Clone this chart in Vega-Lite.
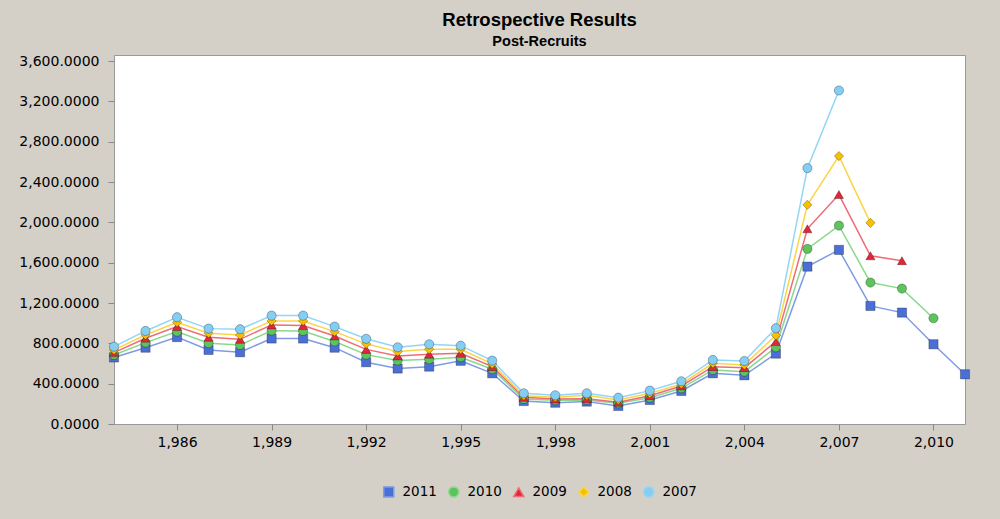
{
  "$schema": "https://vega.github.io/schema/vega-lite/v6.json",
  "width": 851,
  "height": 369,
  "autosize": {"type": "none"},
  "padding": {"left": 114, "top": 55, "right": 35, "bottom": 95},
  "background": "#d4d0c8",
  "title": {
    "text": "Retrospective Results",
    "subtitle": "Post-Recruits",
    "font": "Liberation Sans",
    "fontSize": 18.5,
    "fontWeight": "bold",
    "color": "black",
    "subtitleFont": "Liberation Sans",
    "subtitleFontSize": 14.5,
    "subtitleFontWeight": "bold",
    "subtitleColor": "black",
    "subtitlePadding": 5,
    "offset": 6,
    "anchor": "middle"
  },
  "config": {
    "view": {"fill": "white", "stroke": "#999999", "strokeWidth": 1},
    "legend": {
      "title": null,
      "orient": "none",
      "legendX": 268,
      "legendY": 430,
      "direction": "horizontal",
      "padding": 0,
      "labelFont": "DejaVu Sans",
      "labelFontSize": 13.5,
      "labelColor": "black",
      "symbolSize": 100,
      "labelOffset": 7,
      "columnPadding": 8,
      "symbolStrokeWidth": 1.5,
      "symbolOpacity": 1
    }
  },
  "data": {
    "values": [
      {"s": "2011", "year": 1984, "v": 660}, {"s": "2011", "year": 1985, "v": 757}, {"s": "2011", "year": 1986, "v": 862}, {"s": "2011", "year": 1987, "v": 735},
      {"s": "2011", "year": 1988, "v": 712}, {"s": "2011", "year": 1989, "v": 848}, {"s": "2011", "year": 1990, "v": 848}, {"s": "2011", "year": 1991, "v": 757},
      {"s": "2011", "year": 1992, "v": 613}, {"s": "2011", "year": 1993, "v": 550}, {"s": "2011", "year": 1994, "v": 569}, {"s": "2011", "year": 1995, "v": 627},
      {"s": "2011", "year": 1996, "v": 503}, {"s": "2011", "year": 1997, "v": 228}, {"s": "2011", "year": 1998, "v": 211}, {"s": "2011", "year": 1999, "v": 222},
      {"s": "2011", "year": 2000, "v": 179}, {"s": "2011", "year": 2001, "v": 238}, {"s": "2011", "year": 2002, "v": 328}, {"s": "2011", "year": 2003, "v": 503},
      {"s": "2011", "year": 2004, "v": 483}, {"s": "2011", "year": 2005, "v": 698}, {"s": "2011", "year": 2006, "v": 1561}, {"s": "2011", "year": 2007, "v": 1727},
      {"s": "2011", "year": 2008, "v": 1171}, {"s": "2011", "year": 2009, "v": 1105}, {"s": "2011", "year": 2010, "v": 791}, {"s": "2011", "year": 2011, "v": 493},

      {"s": "2010", "year": 1984, "v": 685}, {"s": "2010", "year": 1985, "v": 807}, {"s": "2010", "year": 1986, "v": 916}, {"s": "2010", "year": 1987, "v": 801},
      {"s": "2010", "year": 1988, "v": 784}, {"s": "2010", "year": 1989, "v": 926}, {"s": "2010", "year": 1990, "v": 923}, {"s": "2010", "year": 1991, "v": 818},
      {"s": "2010", "year": 1992, "v": 688}, {"s": "2010", "year": 1993, "v": 629}, {"s": "2010", "year": 1994, "v": 642}, {"s": "2010", "year": 1995, "v": 662},
      {"s": "2010", "year": 1996, "v": 543}, {"s": "2010", "year": 1997, "v": 248}, {"s": "2010", "year": 1998, "v": 235}, {"s": "2010", "year": 1999, "v": 238},
      {"s": "2010", "year": 2000, "v": 205}, {"s": "2010", "year": 2001, "v": 261}, {"s": "2010", "year": 2002, "v": 354}, {"s": "2010", "year": 2003, "v": 536},
      {"s": "2010", "year": 2004, "v": 519}, {"s": "2010", "year": 2005, "v": 761}, {"s": "2010", "year": 2006, "v": 1737}, {"s": "2010", "year": 2007, "v": 1968},
      {"s": "2010", "year": 2008, "v": 1403}, {"s": "2010", "year": 2009, "v": 1343}, {"s": "2010", "year": 2010, "v": 1049},

      {"s": "2009", "year": 1984, "v": 708}, {"s": "2009", "year": 1985, "v": 851}, {"s": "2009", "year": 1986, "v": 966}, {"s": "2009", "year": 1987, "v": 861},
      {"s": "2009", "year": 1988, "v": 840}, {"s": "2009", "year": 1989, "v": 983}, {"s": "2009", "year": 1990, "v": 976}, {"s": "2009", "year": 1991, "v": 873},
      {"s": "2009", "year": 1992, "v": 740}, {"s": "2009", "year": 1993, "v": 675}, {"s": "2009", "year": 1994, "v": 692}, {"s": "2009", "year": 1995, "v": 702},
      {"s": "2009", "year": 1996, "v": 569}, {"s": "2009", "year": 1997, "v": 265}, {"s": "2009", "year": 1998, "v": 248}, {"s": "2009", "year": 1999, "v": 251},
      {"s": "2009", "year": 2000, "v": 215}, {"s": "2009", "year": 2001, "v": 281}, {"s": "2009", "year": 2002, "v": 377}, {"s": "2009", "year": 2003, "v": 569},
      {"s": "2009", "year": 2004, "v": 559}, {"s": "2009", "year": 2005, "v": 817}, {"s": "2009", "year": 2006, "v": 1936}, {"s": "2009", "year": 2007, "v": 2276},
      {"s": "2009", "year": 2008, "v": 1668}, {"s": "2009", "year": 2009, "v": 1620},

      {"s": "2008", "year": 1984, "v": 735}, {"s": "2008", "year": 1985, "v": 883}, {"s": "2008", "year": 1986, "v": 1009}, {"s": "2008", "year": 1987, "v": 900},
      {"s": "2008", "year": 1988, "v": 883}, {"s": "2008", "year": 1989, "v": 1022}, {"s": "2008", "year": 1990, "v": 1022}, {"s": "2008", "year": 1991, "v": 916},
      {"s": "2008", "year": 1992, "v": 795}, {"s": "2008", "year": 1993, "v": 718}, {"s": "2008", "year": 1994, "v": 741}, {"s": "2008", "year": 1995, "v": 741},
      {"s": "2008", "year": 1996, "v": 596}, {"s": "2008", "year": 1997, "v": 281}, {"s": "2008", "year": 1998, "v": 265}, {"s": "2008", "year": 1999, "v": 285},
      {"s": "2008", "year": 2000, "v": 238}, {"s": "2008", "year": 2001, "v": 304}, {"s": "2008", "year": 2002, "v": 397}, {"s": "2008", "year": 2003, "v": 602},
      {"s": "2008", "year": 2004, "v": 586}, {"s": "2008", "year": 2005, "v": 880}, {"s": "2008", "year": 2006, "v": 2174}, {"s": "2008", "year": 2007, "v": 2657},
      {"s": "2008", "year": 2008, "v": 1995},

      {"s": "2007", "year": 1984, "v": 767}, {"s": "2007", "year": 1985, "v": 923}, {"s": "2007", "year": 1986, "v": 1059}, {"s": "2007", "year": 1987, "v": 946},
      {"s": "2007", "year": 1988, "v": 940}, {"s": "2007", "year": 1989, "v": 1075}, {"s": "2007", "year": 1990, "v": 1075}, {"s": "2007", "year": 1991, "v": 966},
      {"s": "2007", "year": 1992, "v": 845}, {"s": "2007", "year": 1993, "v": 761}, {"s": "2007", "year": 1994, "v": 791}, {"s": "2007", "year": 1995, "v": 777},
      {"s": "2007", "year": 1996, "v": 629}, {"s": "2007", "year": 1997, "v": 305}, {"s": "2007", "year": 1998, "v": 285}, {"s": "2007", "year": 1999, "v": 305},
      {"s": "2007", "year": 2000, "v": 261}, {"s": "2007", "year": 2001, "v": 331}, {"s": "2007", "year": 2002, "v": 424}, {"s": "2007", "year": 2003, "v": 635},
      {"s": "2007", "year": 2004, "v": 625}, {"s": "2007", "year": 2005, "v": 950}, {"s": "2007", "year": 2006, "v": 2538}, {"s": "2007", "year": 2007, "v": 3308}
    ]
  },
  "encoding": {
    "x": {
      "field": "year",
      "type": "quantitative",
      "scale": {"domain": [1984, 2011], "nice": false, "zero": false},
      "axis": {
        "values": [1986, 1989, 1992, 1995, 1998, 2001, 2004, 2007, 2010],
        "format": ",d",
        "title": null,
        "grid": false,
        "domain": false,
        "labelFont": "DejaVu Sans",
        "labelFontSize": 14,
        "labelColor": "black",
        "tickColor": "#888888",
        "tickSize": 6,
        "labelPadding": 5
      }
    },
    "y": {
      "field": "v",
      "type": "quantitative",
      "scale": {"domain": [0, 3660], "nice": false},
      "axis": {
        "values": [0, 400, 800, 1200, 1600, 2000, 2400, 2800, 3200, 3600],
        "format": ",.4f",
        "title": null,
        "grid": false,
        "domain": false,
        "labelFont": "DejaVu Sans",
        "labelFontSize": 14,
        "labelColor": "black",
        "tickColor": "#888888",
        "tickSize": 6,
        "labelPadding": 9
      }
    }
  },
  "layer": [
    {
      "mark": {"type": "line", "strokeWidth": 1.5},
      "encoding": {
        "stroke": {
          "field": "s",
          "type": "nominal",
          "scale": {
            "domain": ["2011", "2010", "2009", "2008", "2007"],
            "range": ["#7f9be3", "#8bd88b", "#ef6b76", "#fbd548", "#92d5f7"]
          },
          "legend": {"title": null}
        }
      }
    },
    {
      "mark": {"type": "point", "filled": true, "opacity": 1, "size": 85, "stroke": "rgba(0,0,0,0.28)", "strokeWidth": 1},
      "encoding": {
        "color": {
          "field": "s",
          "type": "nominal",
          "scale": {
            "domain": ["2011", "2010", "2009", "2008", "2007"],
            "range": ["#4a70d5", "#5dc45d", "#e2263a", "#f8c100", "#84cdf4"]
          },
          "legend": {"title": null}
        },
        "shape": {
          "field": "s",
          "type": "nominal",
          "scale": {
            "domain": ["2011", "2010", "2009", "2008", "2007"],
            "range": ["square", "circle", "triangle-up", "diamond", "circle"]
          },
          "legend": {"title": null}
        }
      }
    }
  ]
}
